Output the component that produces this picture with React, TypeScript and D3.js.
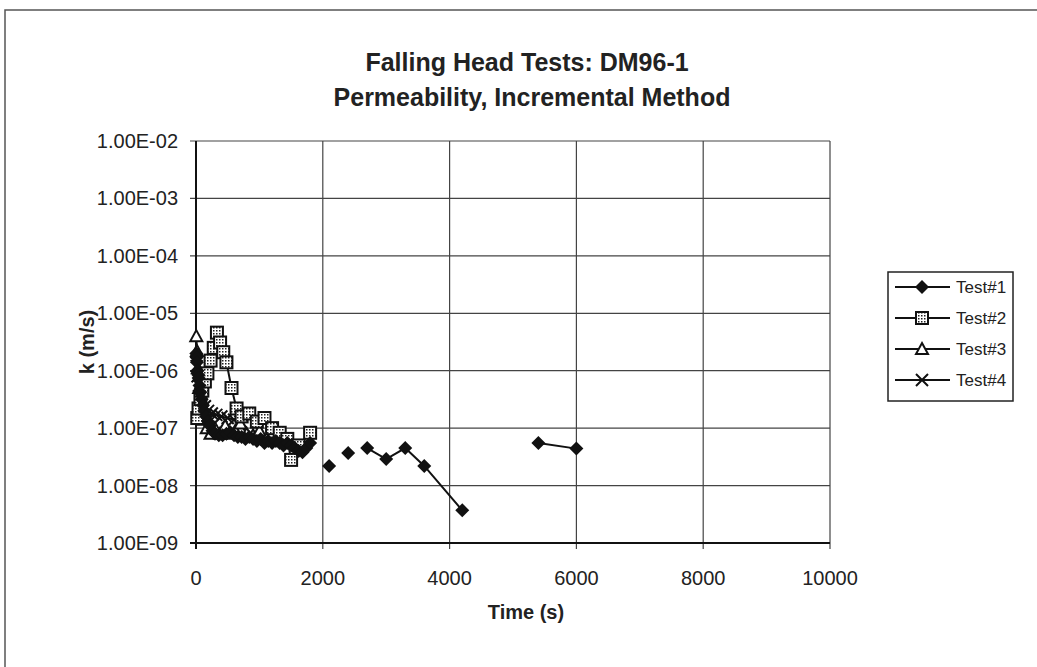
import React, { useEffect, useRef } from 'react';
import * as d3 from 'd3';

// Test#1 (null = gap in the line)
const test1Time = [5, 10, 15, 25, 35, 40, 55, 70, 90, 110, 130, 160, 190, 220, 260, 300, 360, 420, 480, 540, 600, 660, 720, 780, 840, 900, 960, 1020, 1080, 1140, 1200, 1260, 1320, 1380, 1440, 1500, 1560, 1620, 1680, 1740, 1800, null, 2100, null, 2400, null, 2700, 3000, 3300, 3600, 4200, null, 5400, 6000];
const test1K = [2.0e-6, 1.7e-6, 1.4e-6, 1.0e-6, 8.5e-7, 7.5e-7, 5.5e-7, 4.2e-7, 3.2e-7, 2.5e-7, 2.0e-7, 1.6e-7, 1.3e-7, 1.1e-7, 9e-8, 8e-8, 7.5e-8, 7.5e-8, 8e-8, 8.5e-8, 7.5e-8, 7e-8, 7e-8, 6.5e-8, 7e-8, 6.5e-8, 6e-8, 6.5e-8, 5.5e-8, 6e-8, 5.5e-8, 6e-8, 5.5e-8, 5e-8, 5.5e-8, 5e-8, 4.5e-8, 4e-8, 3.8e-8, 4.5e-8, 5.5e-8, null, 2.2e-8, null, 3.7e-8, null, 4.5e-8, 2.9e-8, 4.5e-8, 2.2e-8, 3.7e-9, null, 5.5e-8, 4.4e-8];

const test2Time = [20, 40, 70, 100, 140, 180, 230, 280, 330, 380, 430, 480, 560, 640, 720, 840, 960, 1080, 1200, 1320, 1440, 1500, 1620, 1800];
const test2K = [1.5e-7, 2.2e-7, 3.2e-7, 4.5e-7, 6.5e-7, 9e-7, 1.5e-6, 2.5e-6, 4.6e-6, 3.1e-6, 2.1e-6, 1.4e-6, 5e-7, 2.2e-7, 1.6e-7, 1.8e-7, 1.3e-7, 1.5e-7, 1e-7, 8.3e-8, 6.5e-8, 2.8e-8, 5e-8, 8.3e-8];

const test3Time = [5, 15, 30, 50, 80, 120, 170, 230, 300, 380, 460, 540, 620, 700, 800, 900, 1000];
const test3K = [4e-6, 2.2e-6, 1.1e-6, 5e-7, 2.5e-7, 1.4e-7, 1e-7, 8e-8, 1e-7, 8e-8, 1.1e-7, 8e-8, 9e-8, 1.2e-7, 8e-8, 7.5e-8, 9e-8];

const test4Time = [10, 25, 45, 70, 100, 140, 190, 250, 320, 400, 500, 600, 700];
const test4K = [1.2e-6, 8e-7, 5.5e-7, 4e-7, 3e-7, 2.4e-7, 2e-7, 1.8e-7, 1.7e-7, 1.6e-7, 1.5e-7, 1.4e-7, 1.3e-7];

const xTicks = [0, 2000, 4000, 6000, 8000, 10000];
const yExponents = [-9, -8, -7, -6, -5, -4, -3, -2];
const seriesNames = ['Test#1', 'Test#2', 'Test#3', 'Test#4'];

type Pt = { t: number | null; k: number | null };

const zip = (ts: (number | null)[], ks: (number | null)[]): Pt[] =>
  ts.map((t, i) => ({ t, k: ks[i] }));

const App: React.FC = () => {
  const ref = useRef<SVGSVGElement>(null);

  useEffect(() => {
    const svg = d3.select(ref.current!);
    svg.selectAll('*').remove();
    const font = 'Liberation Sans, Arial, sans-serif';

    const x = d3.scaleLinear().domain([0, 10000]).range([196, 830]);
    const y = d3.scaleLog().domain([1e-9, 1e-2]).range([543, 141]);

    // dotted fill for the squares
    const defs = svg.append('defs');
    const pat = defs
      .append('pattern')
      .attr('id', 'dots')
      .attr('width', 3)
      .attr('height', 3)
      .attr('patternUnits', 'userSpaceOnUse');
    pat.append('rect').attr('width', 3).attr('height', 3).attr('fill', '#fff');
    pat.append('rect').attr('width', 1.5).attr('height', 1.5).attr('fill', '#222');

    // outer frame
    svg
      .append('path')
      .attr('d', 'M5,700 L5,10 L1040,10')
      .attr('fill', 'none')
      .attr('stroke', '#555')
      .attr('stroke-width', 1.5);

    // title
    svg
      .append('text')
      .attr('x', 527)
      .attr('y', 71)
      .attr('text-anchor', 'middle')
      .style('font', `bold 25px ${font}`)
      .attr('fill', '#222')
      .text('Falling Head Tests: DM96-1');
    svg
      .append('text')
      .attr('x', 532)
      .attr('y', 106)
      .attr('text-anchor', 'middle')
      .style('font', `bold 25px ${font}`)
      .attr('fill', '#222')
      .text('Permeability, Incremental Method');

    // gridlines
    const grid = svg.append('g').attr('stroke', '#444').attr('stroke-width', 1.2);
    yExponents.forEach((e) => {
      grid
        .append('line')
        .attr('x1', 190)
        .attr('x2', 830)
        .attr('y1', y(Math.pow(10, e)))
        .attr('y2', y(Math.pow(10, e)));
    });
    xTicks.forEach((t) => {
      grid
        .append('line')
        .attr('x1', x(t))
        .attr('x2', x(t))
        .attr('y1', 141)
        .attr('y2', 549);
    });
    // axes
    svg
      .append('path')
      .attr('d', `M196,141 L196,549 M190,543 L830,543`)
      .attr('stroke', '#111')
      .attr('stroke-width', 2)
      .attr('fill', 'none');

    // tick labels
    yExponents.forEach((e) => {
      svg
        .append('text')
        .attr('x', 178)
        .attr('y', y(Math.pow(10, e)) + 7)
        .attr('text-anchor', 'end')
        .style('font', `20px ${font}`)
        .attr('fill', '#222')
        .text(`1.00E-${String(-e).padStart(2, '0')}`);
    });
    xTicks.forEach((t) => {
      svg
        .append('text')
        .attr('x', x(t))
        .attr('y', 585)
        .attr('text-anchor', 'middle')
        .style('font', `20px ${font}`)
        .attr('fill', '#222')
        .text(String(t));
    });

    svg
      .append('text')
      .attr('x', 526)
      .attr('y', 619)
      .attr('text-anchor', 'middle')
      .style('font', `bold 20px ${font}`)
      .attr('fill', '#222')
      .text('Time (s)');
    svg
      .append('text')
      .attr('transform', 'translate(94,342) rotate(-90)')
      .attr('text-anchor', 'middle')
      .style('font', `bold 20px ${font}`)
      .attr('fill', '#222')
      .text('k (m/s)');

    const line = d3
      .line<Pt>()
      .defined((d) => d.t !== null && d.k !== null)
      .x((d) => x(d.t!))
      .y((d) => y(d.k!));

    const drawMarker = (
      g: d3.Selection<SVGGElement, unknown, null, undefined>,
      kind: number,
      cx: number,
      cy: number
    ) => {
      if (kind === 0) {
        g.append('path')
          .attr('d', `M${cx},${cy - 7} L${cx + 7},${cy} L${cx},${cy + 7} L${cx - 7},${cy} Z`)
          .attr('fill', '#111');
      } else if (kind === 1) {
        g.append('rect')
          .attr('x', cx - 6)
          .attr('y', cy - 6)
          .attr('width', 12)
          .attr('height', 12)
          .attr('fill', 'url(#dots)')
          .attr('stroke', '#111')
          .attr('stroke-width', 2);
      } else if (kind === 2) {
        g.append('path')
          .attr('d', `M${cx},${cy - 6} L${cx + 6},${cy + 5} L${cx - 6},${cy + 5} Z`)
          .attr('fill', '#fff')
          .attr('stroke', '#111')
          .attr('stroke-width', 2);
      } else {
        g.append('path')
          .attr('d', `M${cx - 6},${cy - 6} L${cx + 6},${cy + 6} M${cx + 6},${cy - 6} L${cx - 6},${cy + 6}`)
          .attr('stroke', '#111')
          .attr('stroke-width', 2);
      }
    };

    const series = [
      zip(test1Time, test1K),
      zip(test2Time, test2K),
      zip(test3Time, test3K),
      zip(test4Time, test4K),
    ];

    const plot = svg.append('g');
    // draw in reverse so Test#1 is on top
    [3, 2, 1, 0].forEach((i) => {
      const data = series[i];
      plot
        .append('path')
        .datum(data)
        .attr('d', line)
        .attr('fill', 'none')
        .attr('stroke', '#111')
        .attr('stroke-width', 2);
      const mg = plot.append('g');
      data
        .filter((d) => d.t !== null && d.k !== null)
        .forEach((d) => drawMarker(mg, i, x(d.t!), y(d.k!)));
    });

    // legend
    const lg = svg.append('g');
    lg.append('rect')
      .attr('x', 888)
      .attr('y', 272)
      .attr('width', 125)
      .attr('height', 129)
      .attr('fill', '#fff')
      .attr('stroke', '#222')
      .attr('stroke-width', 1.5);
    seriesNames.forEach((name, i) => {
      const ly = 287 + i * 31;
      lg.append('line')
        .attr('x1', 895)
        .attr('x2', 950)
        .attr('y1', ly)
        .attr('y2', ly)
        .attr('stroke', '#111')
        .attr('stroke-width', 2);
      drawMarker(lg, i, 922, ly);
      lg.append('text')
        .attr('x', 956)
        .attr('y', ly + 6)
        .style('font', `17px ${font}`)
        .attr('fill', '#222')
        .text(name);
    });
  }, []);

  return (
    <svg
      ref={ref}
      width={1037}
      height={667}
      style={{ position: 'absolute', left: 0, top: 0, background: '#fff' }}
    />
  );
};

export default App;
